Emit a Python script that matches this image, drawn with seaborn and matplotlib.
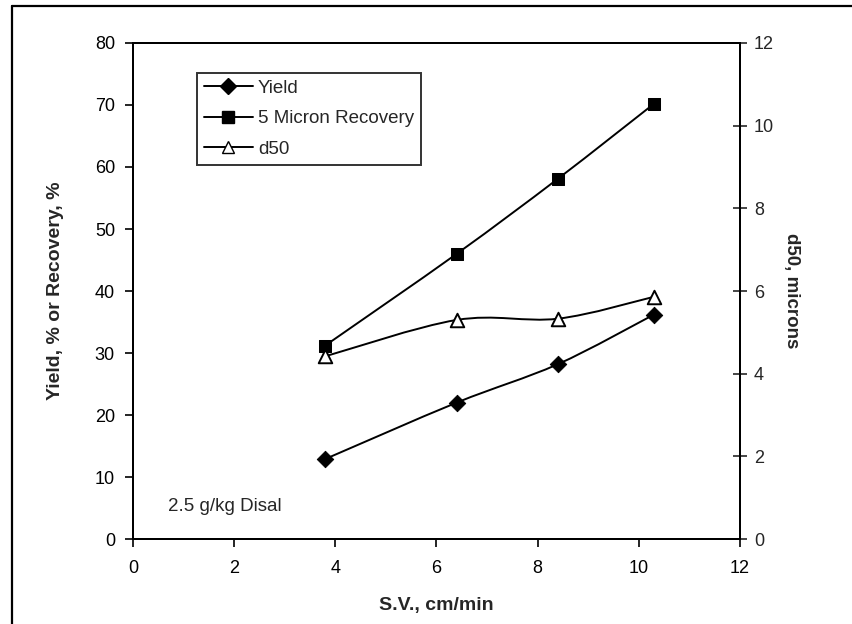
import numpy as np
import pandas as pd
import matplotlib
matplotlib.use("Agg")
import matplotlib.pyplot as plt
import seaborn as sns
from matplotlib.path import Path
from matplotlib.patches import PathPatch
from matplotlib.lines import Line2D

# --------------------------------------------------------------
# Data
# --------------------------------------------------------------
sv = [3.8, 6.4, 8.4, 10.3]
yield_pct = [12.9, 22.0, 28.2, 36.2]
micron5_recovery = [31.2, 46.0, 58.1, 70.2]
d50_microns = [4.42, 5.3, 5.33, 5.86]

df = pd.DataFrame({"SV": sv, "Yield": yield_pct,
                   "5 Micron Recovery": micron5_recovery, "d50": d50_microns})

sns.set_style("ticks")
plt.rcParams["font.family"] = ["Liberation Sans", "DejaVu Sans"]


def smooth_path(x, y):
    # Excel-style smoothed line: Catmull-Rom segments as cubic Beziers
    pts = np.column_stack([x, y]).astype(float)
    ext = np.vstack([pts[0], pts, pts[-1]])
    verts = [pts[0]]
    codes = [Path.MOVETO]
    for i in range(1, len(ext) - 2):
        p0, p1, p2, p3 = ext[i - 1], ext[i], ext[i + 1], ext[i + 2]
        verts += [p1 + (p2 - p0) / 6, p2 - (p3 - p1) / 6, p2]
        codes += [Path.CURVE4] * 3
    return Path(verts, codes)


fig = plt.figure(figsize=(8.52, 6.24), dpi=100)
ax = fig.add_axes([0.1561, 0.1362, 0.7124, 0.7949])
ax2 = ax.twinx()

lw = 1.4
ax.add_patch(PathPatch(smooth_path(df["SV"], df["Yield"]), fill=False, lw=lw, color="black"))
ax.add_patch(PathPatch(smooth_path(df["SV"], df["5 Micron Recovery"]), fill=False, lw=lw, color="black"))
ax2.add_patch(PathPatch(smooth_path(df["SV"], df["d50"]), fill=False, lw=lw, color="black"))

sns.scatterplot(data=df, x="SV", y="Yield", marker="D", s=70, color="black",
                edgecolor="black", ax=ax, zorder=5, legend=False)
sns.scatterplot(data=df, x="SV", y="5 Micron Recovery", marker="s", s=85, color="black",
                edgecolor="black", ax=ax, zorder=5, legend=False)
sns.scatterplot(data=df, x="SV", y="d50", marker="^", s=95, color="white",
                edgecolor="black", linewidth=1.4, ax=ax2, zorder=5, legend=False)

ax.set_xlim(0, 12)
ax.set_ylim(0, 80)
ax2.set_ylim(0, 12)
ax.set_xticks(range(0, 13, 2))
ax.set_yticks(range(0, 81, 10))
ax2.set_yticks(range(0, 13, 2))

ax.set_xlabel("S.V., cm/min", fontsize=14, fontweight="bold")
ax.set_ylabel("Yield, % or Recovery, %", fontsize=14, fontweight="bold")
ax2.set_ylabel("d50, microns", fontsize=13.5, fontweight="bold", rotation=270, va="center")
ax.xaxis.set_label_coords(0.5, -0.117)
ax.yaxis.set_label_coords(-0.114, 0.5)
ax2.yaxis.set_label_coords(1.085, 0.5)

for a in (ax, ax2):
    for sp in a.spines.values():
        sp.set_linewidth(1.4)
        sp.set_color("black")
ax.tick_params(axis="y", labelsize=13, length=6, width=1.2, colors="black", pad=7)
ax.tick_params(axis="x", labelsize=13, length=6, width=1.2, colors="black", pad=9)
ax2.tick_params(axis="y", labelsize=13, length=10, width=1.2, direction="inout", pad=5)

ax.text(0.69, 5.2, "2.5 g/kg Disal", fontsize=13.5, va="center", ha="left")

handles = [
    Line2D([], [], color="black", lw=lw, marker="D", markersize=8),
    Line2D([], [], color="black", lw=lw, marker="s", markersize=9),
    Line2D([], [], color="black", lw=lw, marker="^", markersize=9,
           markerfacecolor="white", markeredgecolor="black"),
]
leg = ax.legend(handles, ["Yield", "5 Micron Recovery", "d50"], loc="upper left",
                bbox_to_anchor=(0.1054, 0.9395), fontsize=13.5, frameon=True, fancybox=False,
                handlelength=2.65, handletextpad=0.25, borderpad=0.35, labelspacing=0.72,
                borderaxespad=0)
leg.get_frame().set_edgecolor("black")
leg.get_frame().set_linewidth(1.4)

# outer frame of the scanned figure (left and top edges)
fig.add_artist(Line2D([0.014, 0.014], [0.0, 0.99], color="black", lw=1.6, transform=fig.transFigure))
fig.add_artist(Line2D([0.014, 1.0], [0.99, 0.99], color="black", lw=1.6, transform=fig.transFigure))

fig.savefig("out.png", dpi=100, facecolor="white")
